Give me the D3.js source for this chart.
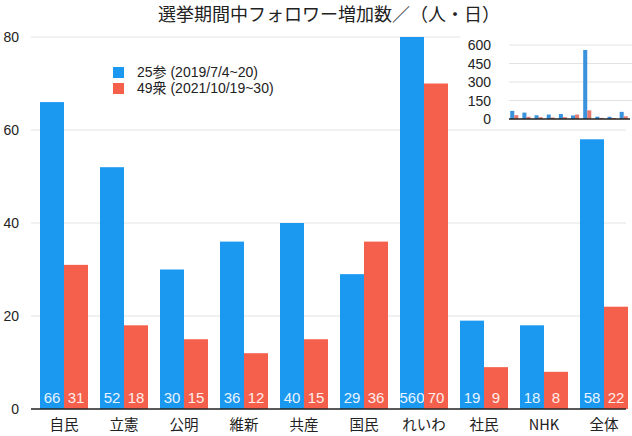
<!DOCTYPE html>
<html><head><meta charset="utf-8">
<script src="https://cdn.jsdelivr.net/npm/d3@7"></script>
<style>
html,body{margin:0;padding:0;background:#fff;}
text{font-family:"Liberation Sans","Noto Sans CJK JP",Arial,sans-serif;}
</style></head>
<body><svg id="c" width="632" height="436"></svg>
<script>
const categories = ["自民","立憲","公明","維新","共産","国民","れいわ","社民","NHK","全体"];
const series1 = [66,52,30,36,40,29,560,19,18,58];
const series2 = [31,18,15,12,15,36,70,9,8,22];
const seriesNames = ["25参 (2019/7/4~20)","49衆 (2021/10/19~30)"];
const mainTicks = [0,20,40,60,80];
const insetTicks = [0,150,300,450,600];
const colors = ["#1B98F0","#F5604C"];
const insetColors = ["#3A93DC","#E27A70"];

const svg = d3.select("#c");
const cjk = '"Noto Sans CJK JP","Liberation Sans",sans-serif';

svg.append("text").attr("x",329).attr("y",21).attr("text-anchor","middle")
  .style("font-family",cjk).style("font-size","18px").attr("fill","#222")
  .text("選挙期間中フォロワー増加数／（人・日）");

const x = d3.scaleBand().domain(categories).range([34,634]).paddingInner(0.2).paddingOuter(0.1);
const y = d3.scaleLinear().domain([0,80]).range([409,37]);

// gridlines
svg.append("g").selectAll("line").data(mainTicks.filter(d=>d>0)).join("line")
  .attr("x1",31).attr("x2",626).attr("y1",d=>y(d)).attr("y2",d=>y(d))
  .attr("stroke","#e2e2e2").attr("stroke-width",1);

const inner = x.bandwidth()/2;
const g = svg.append("g");
categories.forEach((c,i)=>{
  const vals=[series1[i],series2[i]];
  vals.forEach((v,j)=>{
    const vv=Math.min(v,80);
    g.append("rect").attr("x",x(c)+j*inner).attr("width",inner)
      .attr("y",y(vv)).attr("height",y(0)-y(vv)).attr("fill",colors[j]);
    g.append("text").attr("x",x(c)+j*inner+inner/2).attr("y",403)
      .attr("text-anchor","middle").attr("fill",j===0?"#e6f4ff":"#ffeeea")
      .style("font-size","15px").text(v);
  });
});

// axis line
svg.append("line").attr("x1",31).attr("x2",626).attr("y1",y(0)).attr("y2",y(0))
  .attr("stroke","#222").attr("stroke-width",1.5);

// y labels
svg.append("g").selectAll("text").data(mainTicks).join("text")
  .attr("x",19).attr("y",d=>y(d)+5).attr("text-anchor","end")
  .attr("fill","#222").style("font-size","14px").text(d=>d);

// x labels
svg.append("g").selectAll("text").data(categories).join("text")
  .attr("x",d=>x(d)+x.bandwidth()/2).attr("y",430).attr("text-anchor","middle")
  .style("font-family",cjk).style("font-size","14.5px").attr("fill","#222").text(d=>d);

// legend
const leg = svg.append("g");
seriesNames.forEach((n,i)=>{
  leg.append("rect").attr("x",113).attr("y",67+i*16).attr("width",11).attr("height",11).attr("fill",colors[i]);
  leg.append("text").attr("x",137).attr("y",77+i*16)
    .style("font-size","14px").attr("fill","#222").text(n);
});

// inset
const xi = d3.scaleBand().domain(categories).range([509,629]).paddingInner(1/3).paddingOuter(0.1);
const yi = d3.scaleLinear().domain([0,600]).range([119,45]);
const ig = svg.append("g");
ig.append("rect").attr("x",460).attr("y",34).attr("width",172).attr("height",95).attr("fill","#fff");
ig.selectAll("line.g").data(insetTicks.filter(d=>d>0)).join("line")
  .attr("x1",509).attr("x2",632).attr("y1",d=>yi(d)).attr("y2",d=>yi(d))
  .attr("stroke","#e2e2e2");
categories.forEach((c,i)=>{
  [series1[i],series2[i]].forEach((v,j)=>{
    ig.append("rect").attr("x",xi(c)+j*xi.bandwidth()/2).attr("width",xi.bandwidth()/2)
      .attr("y",yi(v)).attr("height",yi(0)-yi(v)).attr("fill",insetColors[j]);
  });
});
ig.append("line").attr("x1",509).attr("x2",630).attr("y1",yi(0)).attr("y2",yi(0))
  .attr("stroke","#222").attr("stroke-width",1.5);
ig.selectAll("text").data(insetTicks).join("text")
  .attr("x",491).attr("y",d=>yi(d)+5).attr("text-anchor","end")
  .attr("fill","#222").style("font-size","14px").text(d=>d);
</script></body></html>
